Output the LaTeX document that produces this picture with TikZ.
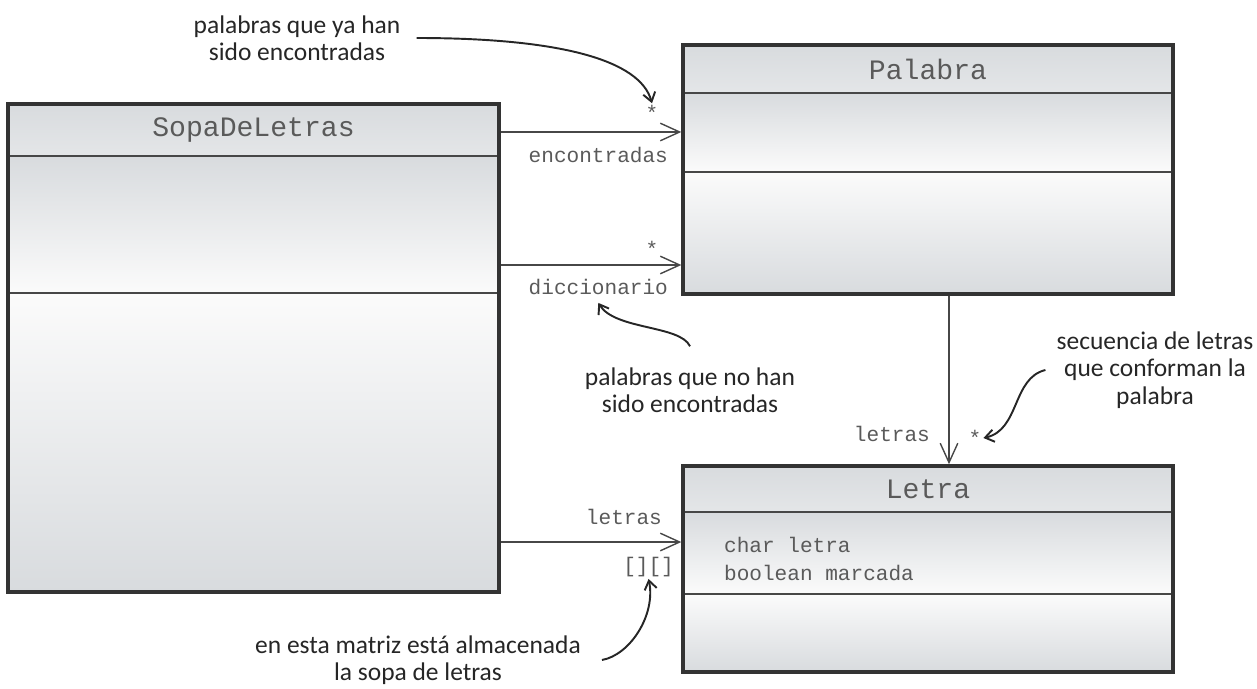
\documentclass[tikz,border=0pt]{standalone}
\usepackage{fontspec}
\setmonofont{Liberation Mono}
\newfontfamily\notefont{Carlito}
\usetikzlibrary{arrows.meta}
\definecolor{framecol}{HTML}{333333}
\definecolor{sepcol}{HTML}{474747}
\definecolor{textcol}{HTML}{5A5A5A}
\definecolor{headgray}{HTML}{D8DBDE}
\definecolor{softgray}{HTML}{E4E6E8}
\definecolor{paper}{HTML}{FBFBFB}

\tikzset{
  frame/.style={draw=framecol, line width=2pt, rectangle, inner sep=0pt},
  sep/.style={draw=sepcol, line width=1pt},
  headshade/.style={top color=headgray, bottom color=softgray},
  attrshade/.style={top color=headgray, bottom color=paper},
  opshade/.style={top color=paper, bottom color=headgray},
  classname/.style={font=\ttfamily\fontsize{16}{18}\selectfont, text=textcol},
  role/.style={font=\ttfamily\fontsize{12}{14}\selectfont, text=textcol, inner sep=1pt},
  assoc/.style={draw=sepcol, line width=0.8pt, -{Straight Barb[length=11pt,width=10pt]}},
  note/.style={font=\notefont\fontsize{14.5}{15.5}\selectfont, align=center, text=black!85},
  notearrow/.style={draw=black!85, line width=1.1pt, -{Straight Barb[length=5pt,width=7pt]}},
}

\begin{document}
\begin{tikzpicture}[x=0.02cm, y=-0.02cm]
  \useasboundingbox (0,0) rectangle (1257,689);
  % SopaDeLetras
  \shade[headshade] (8,104) rectangle (499,156);
  \shade[attrshade] (8,156) rectangle (499,293);
  \shade[opshade] (8,293) rectangle (499,592);
  \draw[sep] (8,156) -- (499,156) (8,293) -- (499,293);
  \node[frame, minimum width=9.82cm, minimum height=9.76cm] (sopa) at (253.5,348) {};
  \node[classname] (sopaname) at (253.5,130) {SopaDeLetras};
  % Palabra
  \shade[headshade] (683,45) rectangle (1173,93);
  \shade[attrshade] (683,93) rectangle (1173,172);
  \shade[opshade] (683,172) rectangle (1173,294);
  \draw[sep] (683,93) -- (1173,93) (683,172) -- (1173,172);
  \node[frame, minimum width=9.8cm, minimum height=4.98cm] (palabra) at (928,169.5) {};
  \node[classname] (palabraname) at (928,69) {Palabra};
  % Letra
  \shade[headshade] (683,466) rectangle (1173,512);
  \shade[attrshade] (683,512) rectangle (1173,594);
  \shade[opshade] (683,594) rectangle (1173,672);
  \draw[sep] (683,512) -- (1173,512) (683,594) -- (1173,594);
  \node[frame, minimum width=9.8cm, minimum height=4.12cm] (letra) at (928,569) {};
  \node[classname] (letraname) at (928,489) {Letra};
  \node[role, anchor=west, align=left, font=\ttfamily\fontsize{12}{16}\selectfont] (letraattr) at (722,559) {char letra\\boolean marcada};

  % associations
  \coordinate (yenc) at (0,132);
  \coordinate (ydic) at (0,265);
  \coordinate (ymat) at (0,542);
  \coordinate (xseq) at (949,0);
  \draw[assoc] (sopa.east |- yenc) -- (palabra.west |- yenc);
  \draw[assoc] (sopa.east |- ydic) -- (palabra.west |- ydic);
  \draw[assoc] (sopa.east |- ymat) -- (letra.west |- ymat);
  \draw[assoc] (palabra.south -| xseq) -- (letra.north -| xseq);

  \node[role] (encstar) at (652,113) {*};
  \node[role, anchor=east] (encname) at (670,155) {encontradas};
  \node[role] (dicstar) at (652,249) {*};
  \node[role, anchor=east] (dicname) at (670,287) {diccionario};
  \node[role, anchor=east] (letname) at (932,434) {letras};
  \node[role] (letstar) at (975,438) {*};
  \node[role, anchor=east] (matname) at (664,517) {letras};
  \node[role, anchor=east] (matdims) at (676,567) {[][]};

  % notes
  \node[note] (notefound) at (297,38) {palabras que ya han\\sido encontradas};
  \node[note] (notemissing) at (690,390) {palabras que no han\\sido encontradas};
  \node[note] (noteseq) at (1155,370) {secuencia de letras\\que conforman la\\palabra};
  \node[note] (notegrid) at (418,660) {en esta matriz está almacenada\\la sopa de letras};

  \draw[notearrow] ([xshift=0.2cm]notefound.east) .. controls (560,38) and (640,60) .. (encstar.north);
  \draw[notearrow] ([yshift=0.3cm]notemissing.north) .. controls (680,325) and (615,330) .. ([yshift=-0.12cm]dicname.south);
  \draw[notearrow] ([xshift=-0.1cm]noteseq.west) .. controls (1012,378) and (1020,430) .. (letstar.east);
  \draw[notearrow] ([xshift=0.3cm]notegrid.east) .. controls (630,655) and (656,615) .. (matdims.south);
\end{tikzpicture}
\end{document}
